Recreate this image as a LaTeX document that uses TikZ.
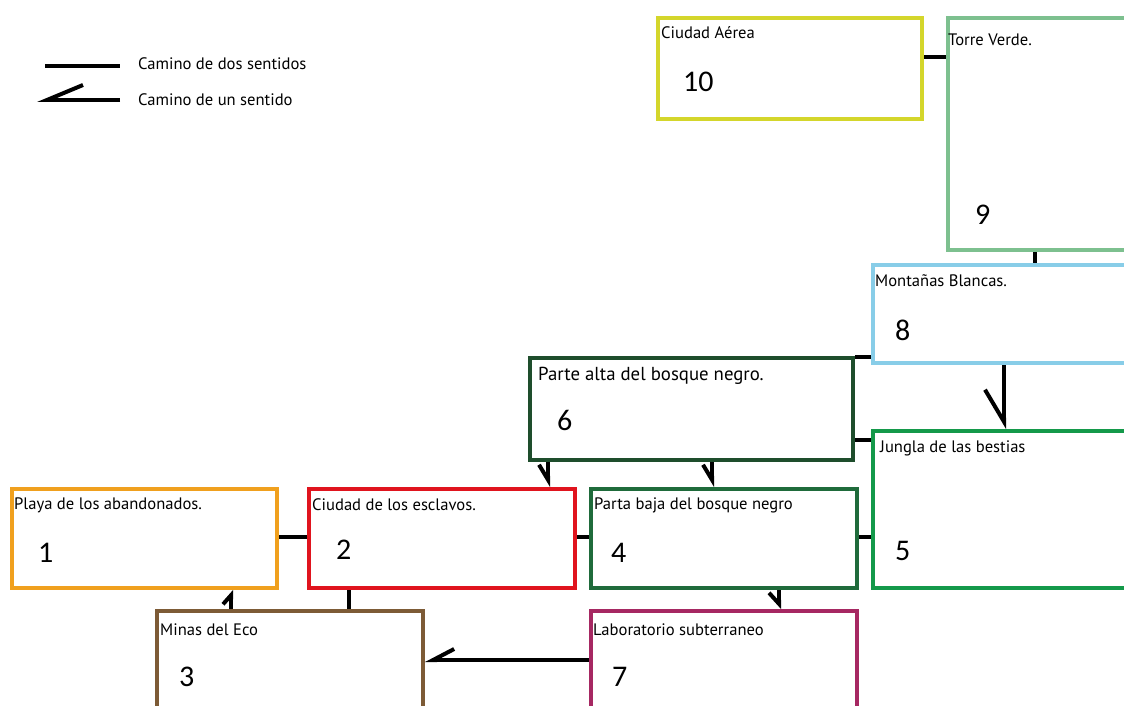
\documentclass[tikz,border=0pt]{standalone}
\usepackage{fontspec}
\setmainfont{PT Sans}
\newfontfamily\numfont{Carlito}
\usetikzlibrary{arrows.meta}
\definecolor{cten}{HTML}{D4D62B}
\definecolor{cnine}{HTML}{7DC08F}
\definecolor{ceight}{HTML}{88CDE8}
\definecolor{csix}{HTML}{1E4D2C}
\definecolor{cfive}{HTML}{14994A}
\definecolor{cone}{HTML}{F0A01E}
\definecolor{ctwo}{HTML}{E0141E}
\definecolor{cfour}{HTML}{1F6B3B}
\definecolor{cthree}{HTML}{7D5B36}
\definecolor{cseven}{HTML}{A62862}

\tikzset{
  room/.style={draw=#1, line width=4pt, anchor=north west, inner sep=0pt},
  title/.style={anchor=west, inner sep=0pt, font=\fontsize{16.6}{18}\selectfont},
  num/.style={anchor=west, inner sep=0pt, font=\numfont\fontsize{30}{32}\selectfont},
  twoway/.style={line width=4pt},
  oneway/.style n args={3}{line width=4pt, -{Straight Barb[#1, length=#2pt, width=#3pt]}}
}

\begin{document}
\begin{tikzpicture}[x=1pt, y=-1pt]
    \useasboundingbox (0,0) rectangle (1124,706);
    \clip (0,0) rectangle (1124,706);
    % Legend
    \coordinate (la) at (45,66);
    \coordinate (lb) at (120,66);
    \coordinate (lc) at (120,100);
    \coordinate (ld) at (37,100);
    \draw[twoway] (la) -- (lb);
    \draw[oneway={right}{36}{30}] (lc) -- (ld);
    \node[title] (lgtwo) at (138,64) {Camino de dos sentidos};
    \node[title] (lgone) at (138,100) {Camino de un sentido};
    % Rooms
    \node[room=cten, minimum width=264pt, minimum height=101pt] (aerea) at (656,16) {};
    \node[room=cnine, minimum width=200pt, minimum height=232pt] (torre) at (946,16) {};
    \node[room=ceight, minimum width=280pt, minimum height=98pt] (montana) at (871,263) {};
    \node[room=csix, minimum width=323pt, minimum height=102pt] (alta) at (528,356) {};
    \node[room=cfive, minimum width=280pt, minimum height=157pt] (jungla) at (871,429) {};
    \node[room=cone, minimum width=265pt, minimum height=99pt] (playa) at (10,487) {};
    \node[room=ctwo, minimum width=266pt, minimum height=99pt] (esclavos) at (307,487) {};
    \node[room=cfour, minimum width=266pt, minimum height=99pt] (baja) at (589,487) {};
    \node[room=cthree, minimum width=266pt, minimum height=120pt] (minas) at (155,609) {};
    \node[room=cseven, minimum width=266pt, minimum height=120pt] (lab) at (589,609) {};
    % Titles
    \node[title] (taerea) at (661,33) {Ciudad Aérea};
    \node[title] (ttorre) at (948,40) {Torre Verde.};
    \node[title] (tmontana) at (875,281) {Montañas Blancas.};
    \node[title, font=\fontsize{18.8}{20}\selectfont] (talta) at (538,376) {Parte alta del bosque negro.};
    \node[title] (tjungla) at (880,448) {Jungla de las bestias};
    \node[title] (tplaya) at (14,505) {Playa de los abandonados.};
    \node[title] (tesclavos) at (312,505) {Ciudad de los esclavos.};
    \node[title] (tbaja) at (594,505) {Parta baja del bosque negro};
    \node[title] (tminas) at (160,630) {Minas del Eco};
    \node[title] (tlab) at (593,630) {Laboratorio subterraneo};
    % Numbers
    \node[num] (naerea) at (683,82) {10};
    \node[num] (ntorre) at (975,215) {9};
    \node[num] (nmontana) at (895,330) {8};
    \node[num] (nalta) at (557,420) {6};
    \node[num] (njungla) at (895,551) {5};
    \node[num] (nplaya) at (38,553) {1};
    \node[num] (nesclavos) at (336,550) {2};
    \node[num] (nbaja) at (611,553) {4};
    \node[num] (nminas) at (179,677) {3};
    \node[num] (nlab) at (612,677) {7};
    % Two-way paths
    \draw[twoway] (aerea.east |- 0,57) -- (torre.west |- 0,57);
    \draw[twoway] (torre.south -| 1035,0) -- (montana.north -| 1035,0);
    \draw[twoway] (alta.east |- 0,357) -- (montana.west |- 0,357);
    \draw[twoway] (alta.east |- 0,440) -- (jungla.west |- 0,440);
    \draw[twoway] (playa.east |- 0,537) -- (esclavos.west |- 0,537);
    \draw[twoway] (esclavos.east |- 0,537) -- (baja.west |- 0,537);
    \draw[twoway] (baja.east |- 0,537) -- (jungla.west |- 0,537);
    \draw[twoway] (esclavos.south -| 349,0) -- (minas.north -| 349,0);
    % One-way paths
    \draw[oneway={right}{32}{38}] (montana.south -| 1004,0) -- (jungla.north -| 1004,0);
    \draw[oneway={right}{15}{18}] (alta.south -| 548,0) -- (esclavos.north -| 548,0);
    \draw[oneway={right}{15}{18}] (alta.south -| 712,0) -- (baja.north -| 712,0);
    \draw[oneway={right}{11}{20}] (baja.south -| 779,0) -- (lab.north -| 779,0);
    \draw[oneway={left}{9}{16}] (minas.north -| 231,0) -- (playa.south -| 231,0);
    \draw[oneway={right}{21}{22}] (lab.west |- 0,660) -- (minas.east |- 0,660);
\end{tikzpicture}
\end{document}
